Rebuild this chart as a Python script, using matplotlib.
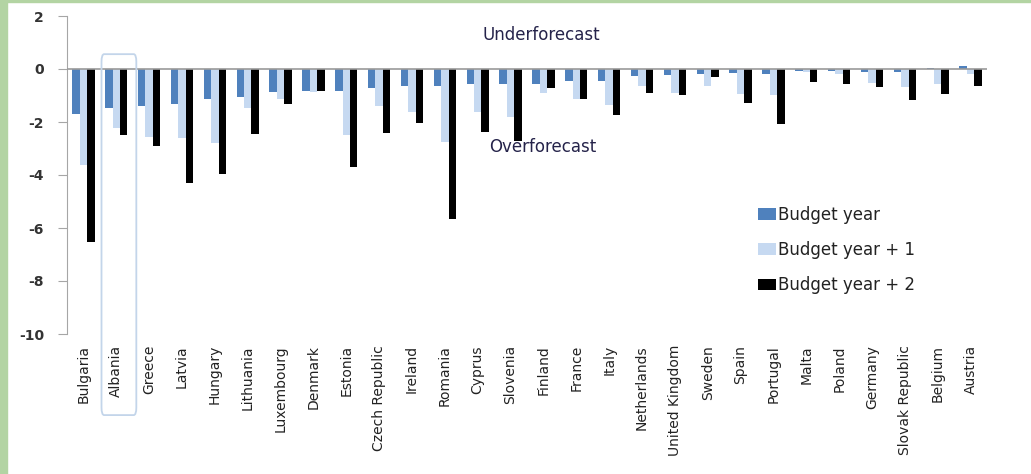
import matplotlib
matplotlib.use('Agg')
import matplotlib.pyplot as plt
import matplotlib.patches as patches
import matplotlib.transforms as transforms
import numpy as np

plt.rcParams['axes.unicode_minus'] = False

# Forecast errors by country, percentage points
countries = ['Bulgaria', 'Albania', 'Greece', 'Latvia', 'Hungary', 'Lithuania',
             'Luxembourg', 'Denmark', 'Estonia', 'Czech Republic', 'Ireland',
             'Romania', 'Cyprus', 'Slovenia', 'Finland', 'France', 'Italy',
             'Netherlands', 'United Kingdom', 'Sweden', 'Spain', 'Portugal',
             'Malta', 'Poland', 'Germany', 'Slovak Republic', 'Belgium', 'Austria']
budget_year = [-1.70, -1.46, -1.38, -1.31, -1.15, -1.04, -0.88, -0.83, -0.83,
               -0.70, -0.63, -0.63, -0.57, -0.57, -0.57, -0.45, -0.45, -0.26,
               -0.21, -0.18, -0.14, -0.18, -0.08, -0.08, -0.10, -0.11, 0.05, 0.11]
budget_year_1 = [-3.62, -2.24, -2.55, -2.59, -2.78, -1.46, -1.15, -0.87, -2.50,
                 -1.40, -1.61, -2.75, -1.61, -1.80, -0.92, -1.15, -1.37, -0.64,
                 -0.92, -0.64, -0.96, -0.99, -0.11, -0.18, -0.52, -0.68, -0.55, -0.20]
budget_year_2 = [-6.52, -2.49, -2.91, -4.31, -3.95, -2.44, -1.31, -0.83, -3.71,
                 -2.43, -2.02, -5.67, -2.36, -2.70, -0.72, -1.15, -1.74, -0.91,
                 -0.98, -0.29, -1.28, -2.06, -0.49, -0.55, -0.67, -1.18, -0.96, -0.65]

series = [('Budget year', budget_year, '#4F81BD'),
          ('Budget year + 1', budget_year_1, '#C6D9F1'),
          ('Budget year + 2', budget_year_2, '#000000')]

fig = plt.figure(figsize=(10.31, 4.74), dpi=100)
ax = fig.add_axes([67 / 1031, 140 / 474, 920 / 1031, 318 / 474])

x = np.arange(len(countries))
width = 0.225
for i, (label, values, color) in enumerate(series):
    ax.bar(x + (i - 1) * width, values, width, color=color, label=label,
           linewidth=0, zorder=2)

ax.axhline(0, color='#9A9A9A', linewidth=1.2, zorder=3)
ax.set_xlim(-0.5, len(countries) - 0.5)
ax.set_ylim(-10, 2)
ax.set_yticks(range(-10, 3, 2))

ax.spines['top'].set_visible(False)
ax.spines['right'].set_visible(False)
ax.spines['bottom'].set_visible(False)
ax.spines['left'].set_color('#A6A6A6')
ax.tick_params(axis='y', length=6.5, width=0.8, color='#A6A6A6', pad=10,
               labelsize=10, labelcolor='#333333')
for t in ax.get_yticklabels():
    t.set_fontweight('bold')
ax.set_xticks(x)
ax.set_xticklabels(countries, rotation=90, fontsize=10, color='#222222')
ax.tick_params(axis='x', length=0, pad=8)

ax.text(13.93, 1.28, 'Underforecast', ha='center', va='center', fontsize=12,
        color='#25234A')
ax.text(13.99, -2.93, 'Overforecast', ha='center', va='center', fontsize=12,
        color='#25234A')

# Highlight box around Albania, reaching down over its label
blend = transforms.blended_transform_factory(ax.transData, ax.transAxes)
box = patches.FancyBboxPatch((0.55, -0.255), 1.06, 1.135,
                             boxstyle='round,pad=0,rounding_size=0.08',
                             transform=blend, fill=False, edgecolor='#C3D5EA',
                             linewidth=1.3, clip_on=False, zorder=4,
                             mutation_aspect=0.3)
ax.add_patch(box)

ax.legend(loc='center left', bbox_to_anchor=(0.751, 0.264), frameon=False,
          fontsize=12, handlelength=1.1, handleheight=0.7, handletextpad=0.1,
          labelspacing=1.04, borderpad=0, borderaxespad=0,
          labelcolor='#222222')

# Green page border on the left and top
fig.patches.append(patches.Rectangle((0, 0), 7 / 1031, 1, transform=fig.transFigure,
                                     color='#B3D4A3', zorder=0))
fig.patches.append(patches.Rectangle((0, 1 - 2 / 474), 1, 2 / 474,
                                     transform=fig.transFigure,
                                     color='#B3D4A3', zorder=0))

fig.savefig('out.png', dpi=100)
